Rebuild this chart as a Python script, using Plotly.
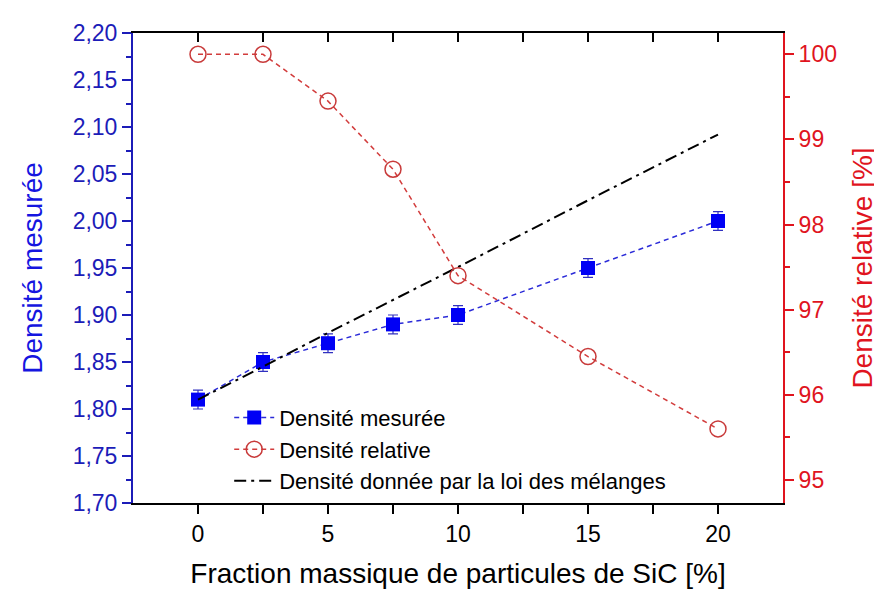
import plotly.graph_objects as go

# fraction massique de SiC [%]
fraction = [0, 2.5, 5, 7.5, 10, 15, 20]
densite_mesuree = [1.81, 1.85, 1.87, 1.89, 1.90, 1.95, 2.00]
erreur_mesuree = [0.01, 0.01, 0.01, 0.01, 0.01, 0.01, 0.01]
densite_relative = [100.0, 100.0, 99.45, 98.65, 97.4, 96.45, 95.6]
densite_melanges = [1.81, 1.845, 1.881, 1.916, 1.951, 2.022, 2.092]

blue_ax = "#1c1cb8"
red_ax = "#e0141e"
font = "Liberation Sans, Arial, sans-serif"

fig = go.Figure()

fig.add_trace(go.Scatter(
    x=fraction, y=densite_mesuree, name="Densité mesurée",
    mode="lines+markers",
    line=dict(color="#2b2bd8", width=1.5, dash="5px,4px"),
    marker=dict(symbol="square", size=14, color="#0000f5"),
    error_y=dict(type="data", array=erreur_mesuree, color="#3030c0", thickness=1.2, width=5),
))
fig.add_trace(go.Scatter(
    x=fraction, y=densite_relative, name="Densité relative",
    mode="lines+markers", yaxis="y2",
    line=dict(color="#d23c3c", width=1.5, dash="5px,4px"),
    marker=dict(symbol="circle-open", size=16, color="#c83a3a", line=dict(width=1.5)),
))
fig.add_trace(go.Scatter(
    x=fraction, y=densite_melanges, name="Densité donnée par la loi des mélanges",
    mode="lines",
    line=dict(color="black", width=2, dash="12px,5px,3px,5px"),
))
# invisible trace to carry the top axis
fig.add_trace(go.Scatter(
    x=[fraction[0]], y=[densite_mesuree[0]], xaxis="x2", mode="markers",
    marker=dict(opacity=0), showlegend=False, hoverinfo="skip",
))

fig.update_layout(
    width=882, height=589,
    paper_bgcolor="white", plot_bgcolor="white",
    separators=", ",
    font=dict(family=font, size=23, color="black"),
    margin=dict(l=125, r=107, t=13, b=94),
    showlegend=True,
    legend=dict(
        x=0.148, y=0.226, xanchor="left", yanchor="top",
        bgcolor="rgba(0,0,0,0)", font=dict(size=22, color="black"),
        itemwidth=40, tracegroupgap=0,
    ),
    xaxis=dict(
        range=[-2.5, 22.5], tickvals=[0, 5, 10, 15, 20],
        ticks="outside", ticklen=9, tickwidth=2, tickcolor="black",
        minor=dict(tickvals=[2.5, 7.5, 12.5, 17.5], ticks="outside", ticklen=9, tickwidth=2, tickcolor="black"),
        showline=True, linewidth=2, linecolor="black",
        showgrid=False, zeroline=False,
        title=dict(text="Fraction massique de particules de SiC [%]", font=dict(size=28), standoff=18),
        tickfont=dict(size=23),
    ),
    xaxis2=dict(
        overlaying="x", side="top", range=[-2.5, 22.5],
        tickvals=[0, 2.5, 5, 7.5, 10, 12.5, 15, 17.5, 20], showticklabels=False,
        ticks="inside", ticklen=9, tickwidth=2, tickcolor="black",
        showline=True, linewidth=2, linecolor="black",
        showgrid=False, zeroline=False,
    ),
    yaxis=dict(
        range=[1.70, 2.20], dtick=0.05, tickformat=".2f",
        ticks="outside", ticklen=9, tickwidth=2, tickcolor=blue_ax,
        minor=dict(dtick=0.025, ticks="outside", ticklen=5, tickwidth=2, tickcolor=blue_ax),
        showline=True, linewidth=2, linecolor=blue_ax,
        showgrid=False, zeroline=False,
        tickfont=dict(size=23, color=blue_ax),
        title=dict(text="Densité mesurée", font=dict(size=28, color="#1515e0"), standoff=22),
    ),
    yaxis2=dict(
        overlaying="y", side="right", range=[94.73, 100.25],
        tickvals=[95, 96, 97, 98, 99, 100],
        ticks="outside", ticklen=9, tickwidth=2, tickcolor=red_ax,
        minor=dict(tickvals=[95.5, 96.5, 97.5, 98.5, 99.5], ticks="outside", ticklen=5, tickwidth=2, tickcolor=red_ax),
        showline=True, linewidth=2, linecolor=red_ax,
        showgrid=False, zeroline=False,
        tickfont=dict(size=23, color=red_ax),
        title=dict(text="Densité relative [%]", font=dict(size=28, color=red_ax), standoff=16),
    ),
)

fig.write_html("out.html")
